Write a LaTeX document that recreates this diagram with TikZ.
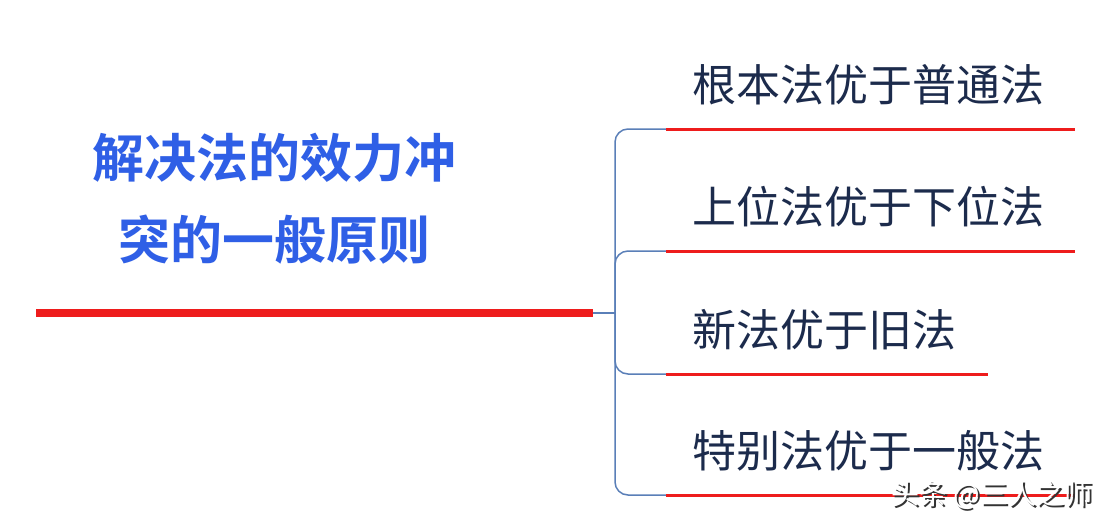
\documentclass[tikz,border=0pt]{standalone}
\usepackage{fontspec}
\setmainfont{Noto Sans CJK SC}
\newfontfamily\cjkbold[BoldFont={Noto Sans CJK SC Bold}]{Noto Sans CJK SC}
\usetikzlibrary{positioning}
\definecolor{titleblue}{HTML}{2F5FE6}
\definecolor{leafnavy}{HTML}{1C2B4C}
\definecolor{branchblue}{HTML}{5A7FB8}
\definecolor{linered}{HTML}{EE1C1C}
\tikzset{
  title/.style={text=titleblue, align=center, inner sep=0pt, font=\cjkbold\bfseries\fontsize{52}{82}\selectfont},
  leaf/.style={text=leafnavy, anchor=west, inner sep=0pt, font=\fontsize{44}{44}\selectfont},
  mainline/.style={draw=linered, line width=8},
  underline/.style={draw=linered, line width=3},
  branch/.style={draw=branchblue, line width=1.5, rounded corners=13}
}

\begin{document}
\begin{tikzpicture}[x=1pt,y=-1pt]
\useasboundingbox[fill=white] (0,0) rectangle (1110,528);
\node[title] (topic) at (274,199) {解决法的效力冲\\突的一般原则};
\coordinate (rootL) at (36,313);
\coordinate (rootR) at (593,313);
\coordinate (hub) at (615,313);
\draw[mainline] (rootL) -- (rootR);
\draw[branch] (rootR) -- (hub);
\foreach \y/\txt/\len [count=\i] in {129/根本法优于普通法/1075, 251/上位法优于下位法/1075, 374/新法优于旧法/988, 495/特别法优于一般法/1075}
{
\node[leaf] (leaf\i) at (692,\y-44) {\txt};
\coordinate (s\i) at (666,\y);
\coordinate (e\i) at (\len,\y);
\draw[branch] (hub) |- (s\i);
\draw[underline] (s\i) -- (e\i);
}
% watermark
\node[text=black!80, font=\fontsize{28}{28}\selectfont] (markshadow) at (994,497) {头条 @三人之师};
\node[text=white, font=\fontsize{28}{28}\selectfont] (mark) at (992,495) {头条 @三人之师};
\end{tikzpicture}
\end{document}
